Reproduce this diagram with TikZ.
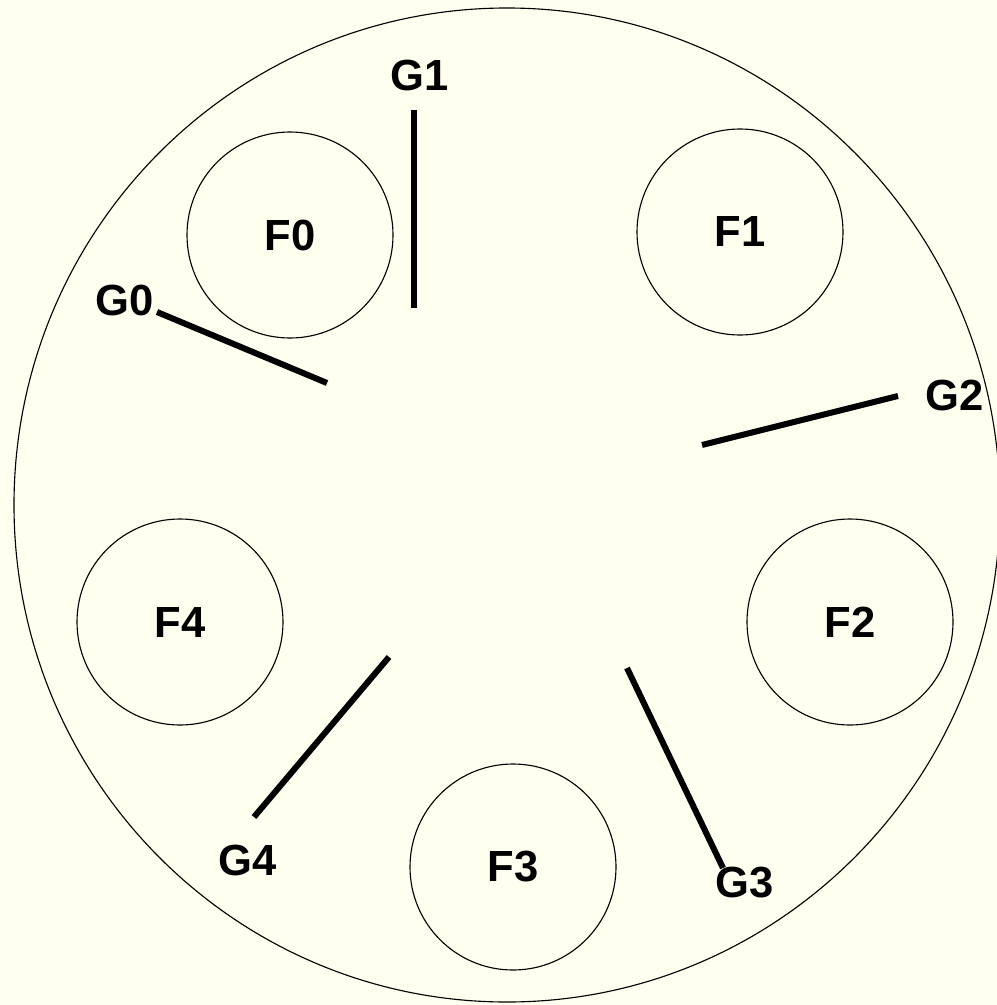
\documentclass[tikz,border=0pt]{standalone}
\usepackage{fontspec}
\setmainfont{Liberation Sans}
\usetikzlibrary{backgrounds}
\definecolor{bgIvory}{RGB}{255,255,240}
\newcommand{\tableRx}{493}
\newcommand{\tableRy}{497}
\newcommand{\plateRadius}{103}
\newcommand{\labelFont}{\fontsize{31}{36}\selectfont\bfseries}

\begin{document}
\begin{tikzpicture}[x=0.025cm, y=-0.025cm,
  plate/.style={circle, draw, thick, minimum size=2*\plateRadius*0.025cm, inner sep=0pt, font=\labelFont},
  stick/.style={line width=4.3pt},
  stickname/.style={font=\labelFont, inner sep=0pt}]
\fill[bgIvory] (0,0) rectangle (997,1005);
\useasboundingbox (0,0) rectangle (997,1005);
\begin{scope}
\clip (0,0) rectangle (997,1005);
\draw[thick] (507,505) ellipse [x radius=\tableRx, y radius=\tableRy];
\end{scope}

% plates
\node (f0) [plate] at (290,235) {F0};
\node (f1) [plate] at (740,232) {F1};
\node (f2) [plate] at (850,622) {F2};
\node (f3) [plate] at (513,867) {F3};
\node (f4) [plate] at (180,622) {F4};

% sticks
\coordinate (g0in) at (327,383); \coordinate (g0out) at (157,312);
\coordinate (g1in) at (414,308); \coordinate (g1out) at (414,110);
\coordinate (g2in) at (702,445); \coordinate (g2out) at (898,396);
\coordinate (g3in) at (627,668); \coordinate (g3out) at (723,868);
\coordinate (g4in) at (389,657); \coordinate (g4out) at (254,817);
\draw[stick] (g0in) -- (g0out);
\draw[stick] (g1in) -- (g1out);
\draw[stick] (g2in) -- (g2out);
\draw[stick] (g3in) -- (g3out);
\draw[stick] (g4in) -- (g4out);

\node (g0) [stickname] at (125,300) {G0};
\node (g1) [stickname] at (420,75) {G1};
\node (g2) [stickname] at (955,395) {G2};
\node (g3) [stickname] at (745,883) {G3};
\node (g4) [stickname] at (248,860) {G4};
\end{tikzpicture}
\end{document}
